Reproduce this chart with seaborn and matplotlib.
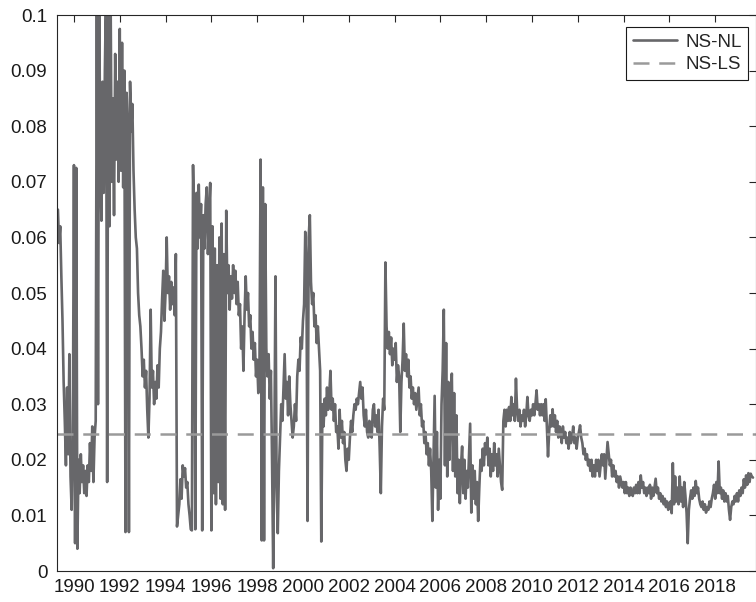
import numpy as np
import pandas as pd
import matplotlib
matplotlib.use("Agg")
import matplotlib.pyplot as plt
import seaborn as sns

# ---------------- data ----------------
start_year = 1989.3      # first observation
step_years = 0.05        # sampling interval of the series (years)

ns_nl = [
    # 1989.30 - 1989.95
    0.065, 0.059, 0.062, 0.053, 0.045, 0.034, 0.027, 0.019, 0.033, 0.021,
    0.039, 0.017, 0.011, 0.022,
    # 1990
    0.073, 0.005, 0.0725, 0.004, 0.020, 0.014, 0.021, 0.016, 0.019, 0.014,
    0.018, 0.0135, 0.019, 0.016, 0.023, 0.018, 0.026, 0.016, 0.024, 0.027,
    # 1991
    0.104, 0.030, 0.104, 0.075, 0.063, 0.088, 0.068, 0.090, 0.104, 0.016,
    0.104, 0.062, 0.104, 0.070, 0.085, 0.064, 0.093, 0.074, 0.088, 0.070,
    # 1992
    0.0975, 0.072, 0.095, 0.069, 0.090, 0.007, 0.086, 0.080, 0.007, 0.088,
    0.079, 0.084, 0.072, 0.065, 0.060, 0.058, 0.050, 0.046, 0.044, 0.040,
    # 1993
    0.035, 0.038, 0.033, 0.036, 0.029, 0.024, 0.031, 0.047, 0.033, 0.036,
    0.030, 0.034, 0.031, 0.037, 0.033, 0.040, 0.043, 0.049, 0.054, 0.045,
    # 1994
    0.050, 0.060, 0.050, 0.053, 0.047, 0.052, 0.048, 0.051, 0.046, 0.057,
    0.008, 0.010, 0.012, 0.0165, 0.013, 0.019, 0.017, 0.0185, 0.015, 0.016,
    # 1995
    0.012, 0.010, 0.0075, 0.0073, 0.073, 0.062, 0.0075, 0.068, 0.058, 0.0695,
    0.060, 0.066, 0.0073, 0.064, 0.058, 0.066, 0.069, 0.057, 0.064, 0.0698,
    # 1996
    0.0073, 0.062, 0.014, 0.058, 0.012, 0.055, 0.016, 0.060, 0.013, 0.0625,
    0.012, 0.057, 0.011, 0.0648, 0.050, 0.055, 0.047, 0.053, 0.049, 0.055,
    # 1997
    0.050, 0.054, 0.048, 0.052, 0.046, 0.048, 0.040, 0.044, 0.036, 0.046,
    0.053, 0.047, 0.050, 0.044, 0.046, 0.040, 0.043, 0.038, 0.041, 0.035,
    # 1998
    0.038, 0.032, 0.036, 0.074, 0.0055, 0.069, 0.0055, 0.066, 0.040, 0.035,
    0.039, 0.031, 0.036, 0.020, 0.0005, 0.022, 0.053, 0.015, 0.0068, 0.018,
    # 1999
    0.024, 0.030, 0.027, 0.033, 0.039, 0.031, 0.034, 0.028, 0.035, 0.030,
    0.027, 0.024, 0.026, 0.030, 0.027, 0.035, 0.038, 0.036, 0.042, 0.040,
    # 2000
    0.045, 0.048, 0.061, 0.055, 0.009, 0.060, 0.064, 0.052, 0.048, 0.050,
    0.044, 0.046, 0.041, 0.044, 0.040, 0.036, 0.0053, 0.030, 0.026, 0.031,
    # 2001
    0.028, 0.033, 0.029, 0.032, 0.036, 0.029, 0.031, 0.027, 0.030, 0.025,
    0.026, 0.022, 0.029, 0.024, 0.027, 0.023, 0.025, 0.020, 0.018, 0.022,
    # 2002
    0.020, 0.024, 0.027, 0.025, 0.028, 0.030, 0.029, 0.031, 0.030, 0.032,
    0.034, 0.031, 0.033, 0.028, 0.026, 0.029, 0.025, 0.024, 0.027, 0.025,
    # 2003
    0.024, 0.029, 0.030, 0.026, 0.028, 0.025, 0.029, 0.022, 0.014, 0.026,
    0.031, 0.029, 0.0555, 0.044, 0.040, 0.043, 0.039, 0.042, 0.037, 0.040,
    # 2004
    0.038, 0.041, 0.034, 0.037, 0.035, 0.025, 0.034, 0.038, 0.0445, 0.036,
    0.039, 0.035, 0.038, 0.033, 0.035, 0.031, 0.033, 0.030, 0.032, 0.029,
    # 2005
    0.031, 0.033, 0.028, 0.030, 0.026, 0.027, 0.023, 0.025, 0.021, 0.023,
    0.019, 0.022, 0.018, 0.009, 0.020, 0.0315, 0.015, 0.025, 0.011, 0.020,
    # 2006
    0.013, 0.030, 0.036, 0.047, 0.019, 0.041, 0.017, 0.034, 0.020, 0.030,
    0.0355, 0.018, 0.032, 0.017, 0.028, 0.014, 0.020, 0.0122, 0.019, 0.0224,
    # 2007
    0.014, 0.020, 0.013, 0.018, 0.015, 0.021, 0.0265, 0.0105, 0.019, 0.013,
    0.018, 0.012, 0.016, 0.009, 0.015, 0.020, 0.018, 0.022, 0.019, 0.023,
    # 2008
    0.021, 0.024, 0.019, 0.022, 0.017, 0.021, 0.018, 0.023, 0.019, 0.021,
    0.017, 0.022, 0.019, 0.016, 0.0146, 0.027, 0.029, 0.026, 0.029, 0.027,
    # 2009
    0.0295, 0.027, 0.0313, 0.028, 0.030, 0.027, 0.0346, 0.029, 0.027, 0.029,
    0.026, 0.028, 0.027, 0.029, 0.026, 0.028, 0.0313, 0.028, 0.027, 0.029,
    # 2010
    0.028, 0.030, 0.028, 0.030, 0.0325, 0.029, 0.030, 0.028, 0.030, 0.028,
    0.030, 0.027, 0.0309, 0.026, 0.0206, 0.025, 0.028, 0.026, 0.0291, 0.026,
    # 2011
    0.028, 0.025, 0.027, 0.024, 0.026, 0.025, 0.023, 0.026, 0.024, 0.025,
    0.023, 0.024, 0.022, 0.025, 0.023, 0.024, 0.026, 0.023, 0.024, 0.022,
    # 2012
    0.024, 0.025, 0.0262, 0.024, 0.023, 0.021, 0.022, 0.020, 0.021, 0.019,
    0.020, 0.018, 0.020, 0.017, 0.019, 0.017, 0.020, 0.018, 0.020, 0.017,
    # 2013
    0.019, 0.021, 0.019, 0.021, 0.0166, 0.020, 0.0232, 0.021, 0.019, 0.020,
    0.017, 0.019, 0.017, 0.018, 0.016, 0.017, 0.015, 0.017, 0.016, 0.015,
    # 2014
    0.016, 0.014, 0.016, 0.014, 0.015, 0.0135, 0.015, 0.014, 0.0135, 0.015,
    0.014, 0.0155, 0.014, 0.016, 0.014, 0.0172, 0.015, 0.016, 0.014, 0.015,
    # 2015
    0.0135, 0.015, 0.014, 0.0155, 0.013, 0.015, 0.0135, 0.015, 0.0166, 0.014,
    0.015, 0.013, 0.014, 0.0125, 0.0135, 0.012, 0.013, 0.0115, 0.0125, 0.011,
    # 2016
    0.012, 0.0125, 0.0104, 0.0194, 0.012, 0.017, 0.0125, 0.015, 0.012, 0.017,
    0.0125, 0.015, 0.0115, 0.016, 0.0135, 0.0105, 0.005, 0.011, 0.013, 0.0145,
    # 2017
    0.013, 0.015, 0.0135, 0.0162, 0.014, 0.015, 0.013, 0.012, 0.0115, 0.0125,
    0.011, 0.012, 0.0105, 0.0115, 0.011, 0.0125, 0.0115, 0.013, 0.014, 0.0155,
    # 2018
    0.013, 0.016, 0.014, 0.0197, 0.014, 0.015, 0.013, 0.0145, 0.0125, 0.014,
    0.0125, 0.0135, 0.011, 0.0092, 0.0115, 0.0125, 0.012, 0.0135, 0.0125, 0.014,
    # 2019.00 - 2019.65
    0.0125, 0.0145, 0.0135, 0.015, 0.014, 0.0165, 0.015, 0.0172, 0.0155, 0.0176,
    0.016, 0.0175, 0.017, 0.0168,
]

ns_ls_level = 0.0247                     # constant NS-LS estimate
series_labels = ["NS-NL", "NS-LS"]

x_ticks = list(range(1990, 2019, 2))
x_tick_labels = [str(y) for y in x_ticks]
y_ticks = [0, 0.01, 0.02, 0.03, 0.04, 0.05, 0.06, 0.07, 0.08, 0.09, 0.1]
y_tick_labels = ["0", "0.01", "0.02", "0.03", "0.04", "0.05",
                 "0.06", "0.07", "0.08", "0.09", "0.1"]
x_limits = (1989.26, 2019.76)
y_limits = (0, 0.1)

# ---------------- figure ----------------
sns.set_style("white")
plt.rcParams["font.family"] = ["Liberation Sans", "DejaVu Sans"]

years = start_year + step_years * np.arange(len(ns_nl))
df_nl = pd.DataFrame({"year": years, "value": ns_nl})
df_ls = pd.DataFrame({"year": list(x_limits), "value": [ns_ls_level, ns_ls_level]})

W, H = 756, 602
fig = plt.figure(figsize=(W / 100, H / 100), dpi=100)
ax = fig.add_axes([57 / W, 31 / H, 698.5 / W, 556 / H])

dark = "#67676a"
light = "#9a9a9a"
axis_col = "#262626"

sns.lineplot(data=df_nl, x="year", y="value", ax=ax, color=dark, lw=1.9,
             estimator=None, sort=False, label=series_labels[0])
sns.lineplot(data=df_ls, x="year", y="value", ax=ax, color=light, lw=1.8,
             estimator=None, linestyle=(0, (6.4, 3.9)), label=series_labels[1])

ax.set_xlim(*x_limits)
ax.set_ylim(*y_limits)
ax.set_xticks(x_ticks)
ax.set_xticklabels(x_tick_labels)
ax.set_yticks(y_ticks)
ax.set_yticklabels(y_tick_labels)
ax.set_xlabel("")
ax.set_ylabel("")

ax.tick_params(axis="both", which="major", direction="in", length=5, width=0.8,
               top=True, right=True, labelsize=13.5, colors=axis_col,
               labelcolor="#1a1a1a")
ax.tick_params(axis="y", pad=7)
ax.tick_params(axis="x", pad=6)
for s in ax.spines.values():
    s.set_visible(True)
    s.set_color(axis_col)
    s.set_linewidth(0.8)

leg = ax.legend(loc="upper right",
                bbox_to_anchor=((748 - 57) / 698.5, (571 - 27) / 556),
                borderaxespad=0, frameon=True, fancybox=False, framealpha=1,
                edgecolor="#1a1a1a", fontsize=13.5, handlelength=2.35,
                handletextpad=0.45, borderpad=0.35, labelspacing=0.3)
leg.get_frame().set_linewidth(0.8)

fig.savefig("out.png", dpi=100)
